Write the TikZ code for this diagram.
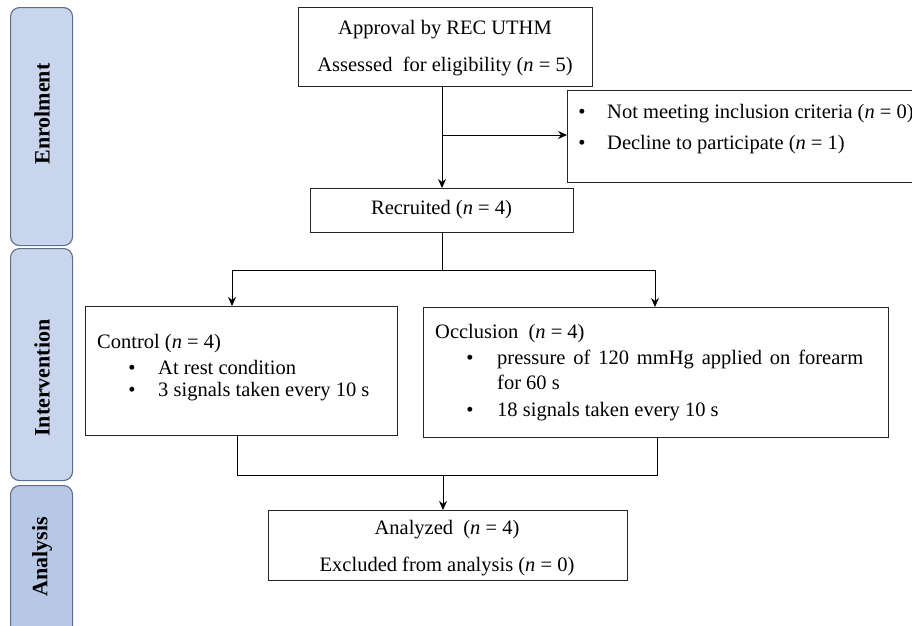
\documentclass[tikz,border=0pt]{standalone}
\usepackage{fontspec}
\setmainfont{Liberation Serif}
\usetikzlibrary{arrows.meta}
\definecolor{sidefill}{HTML}{C9D5EC}
\definecolor{sidefillB}{HTML}{B7C8E6}
\definecolor{sideborder}{HTML}{5B6E8C}
\begin{document}
\begin{tikzpicture}[x=1pt,y=-1pt,
  box/.style={draw=black!85, line width=1pt, inner sep=0pt, anchor=north west},
  side/.style={draw=sideborder, line width=1.1pt, rounded corners=9pt, inner sep=0pt, anchor=north west, minimum width=62pt},
  txt/.style={inner sep=0pt, text height=13pt, text depth=0pt, font=\fontsize{20.5}{24}\selectfont},
  lbl/.style={inner sep=0pt, rotate=90, font=\fontsize{22}{24}\selectfont\bfseries},
  arr/.style={line width=1pt, -{Stealth[length=9pt,width=8pt]}},
  con/.style={line width=1pt}]
\clip (0,0) rectangle (912,625);
% side panels
\node[side, fill=sidefill, minimum height=238pt] (enr) at (10,7) {};
\node[side, fill=sidefill, minimum height=232pt] (int) at (10,248) {};
\node[side, fill=sidefillB, minimum height=160pt] (ana) at (10,485) {};
\node[lbl] (enrl) at (42,114) {Enrolment};
\node[lbl] (intl) at (42,378) {Intervention};
\node[lbl] (anal) at (42,557) {Analysis};
% boxes
\node[box, minimum width=294pt, minimum height=79pt] (top) at (298,7) {};
\node[box, minimum width=263pt, minimum height=44pt] (rec) at (310,188) {};
\node[box, minimum width=353pt, minimum height=92pt] (excl) at (567,90) {};
\node[box, minimum width=312pt, minimum height=129pt] (ctrl) at (85,306) {};
\node[box, minimum width=465pt, minimum height=130pt] (occ) at (423,307) {};
\node[box, minimum width=359pt, minimum height=70pt] (anz) at (268,510) {};
% texts
\node[txt] (t1) at (445,28) {Approval by REC UTHM};
\node[txt] (t2) at (445,65) {Assessed\ \ for eligibility (\textit{n} = 5)};
\node[txt] (e1b) at (582,112) {•};
\node[txt, anchor=west] (e1) at (607,112) {Not meeting inclusion criteria (\textit{n} = 0)};
\node[txt] (e2b) at (582,143) {•};
\node[txt, anchor=west] (e2) at (607,143) {Decline to participate (\textit{n} = 1)};
\node[txt] (rt) at (441.5,208) {Recruited (\textit{n} = 4)};
\node[txt, anchor=west] (c0) at (97,342) {Control (\textit{n} = 4)};
\node[txt] (c1b) at (132,368) {•};
\node[txt, anchor=west] (c1) at (158,368) {At rest condition};
\node[txt] (c2b) at (132,390) {•};
\node[txt, anchor=west] (c2) at (158,390) {3 signals taken every 10 s};
\node[txt, anchor=west] (o0) at (435,332) {Occlusion\ \ (\textit{n} = 4)};
\node[txt] (o1b) at (470,358) {•};
\node[txt, anchor=west] (o1) at (497,358) {\makebox[366pt][s]{pressure of 120 mmHg applied on forearm}};
\node[txt, anchor=west] (o1c) at (497,383) {for 60 s};
\node[txt] (o2b) at (470,410) {•};
\node[txt, anchor=west] (o2) at (497,410) {18 signals taken every 10 s};
\node[txt] (a1) at (447,528) {Analyzed\ \ (\textit{n} = 4)};
\node[txt] (a2) at (447,565) {Excluded from analysis (\textit{n} = 0)};
% connectors
\coordinate (br) at (442,135);
\draw[arr] (top.south -| rec.north) -- (rec.north);
\draw[arr] (br) -- (br -| excl.west);
\coordinate (sL) at (232,270);
\coordinate (sR) at (655,270);
\draw[con] (rec.south) -- (rec.south |- sL);
\draw[con] (sL) -- (sR);
\draw[arr] (sL) -- (sL |- ctrl.north);
\draw[arr] (sR) -- (sR |- occ.north);
\coordinate (jL) at (237,475);
\coordinate (jR) at (657,475);
\coordinate (jM) at (443,475);
\draw[con] (jL |- ctrl.south) -- (jL) -- (jR) -- (jR |- occ.south);
\draw[arr] (jM) -- (jM |- anz.north);
\end{tikzpicture}
\end{document}
